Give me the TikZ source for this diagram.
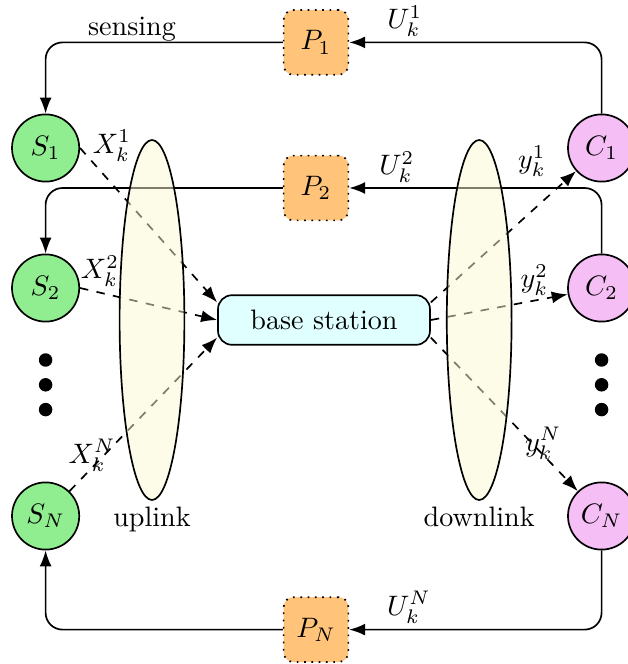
\documentclass[tikz,border=0pt]{standalone}
\usepackage{amsmath,amssymb}
\usepackage{tikz}
\usetikzlibrary{arrows.meta,positioning,shapes.geometric}
\definecolor{sgreen}{RGB}{144,238,144}
\definecolor{cpink}{RGB}{245,190,245}
\definecolor{porange}{RGB}{255,196,122}
\definecolor{bscyan}{RGB}{224,255,255}
\definecolor{linkyellow}{RGB}{250,250,212}

\begin{document}
\begin{tikzpicture}[>={Latex[length=2mm]}, semithick,
	sensor/.style={circle, draw, fill=sgreen, minimum size=0.84cm, inner sep=0pt},
	ctrl/.style={circle, draw, fill=cpink, minimum size=0.84cm, inner sep=0pt},
	plant/.style={draw, dotted, rounded corners=3.5pt, fill=porange, minimum size=0.81cm, inner sep=0pt},
	link/.style={ellipse, draw, fill=linkyellow, fill opacity=0.5, minimum width=0.81cm, minimum height=4.5cm},
	radio/.style={dashed, ->}]
	\useasboundingbox (0,0) rectangle (7.85,8.3);
	\node[sensor] (s1) at (0.57,6.45) {$S_1$};
	\node[sensor] (s2) at (0.57,4.7) {$S_2$};
	\node[sensor] (sN) at (0.57,1.85) {$S_N$};
	\node[ctrl] (c1) at (7.52,6.45) {$C_1$};
	\node[ctrl] (c2) at (7.52,4.7) {$C_2$};
	\node[ctrl] (cN) at (7.52,1.85) {$C_N$};
	\node[plant] (p1) at (3.95,7.77) {$P_1$};
	\node[plant] (p2) at (3.95,5.95) {$P_2$};
	\node[plant] (pN) at (3.95,0.43) {$P_N$};
	\node[draw, rounded corners=5pt, fill=bscyan, minimum width=2.65cm, minimum height=0.62cm] (bs) at (4.05,4.3) {base station};
	\foreach \y in {3.8,3.49,3.18} {
		\fill (0.57,\y) circle (2.4pt);
		\fill (7.52,\y) circle (2.4pt);
	}
	\draw[->, rounded corners=6pt] (c1.north) |- (p1.east);
	\draw[->, rounded corners=6pt] (p1.west) -| (s1.north);
	\draw[->, rounded corners=6pt] (c2.north) |- (p2.east);
	\draw[->, rounded corners=6pt] (p2.west) -| (s2.north);
	\draw[->, rounded corners=6pt] (cN.south) |- (pN.east);
	\draw[->, rounded corners=6pt] (pN.west) -| (sN.south);
	\node (sense) at (1.65,7.93) {sensing};
	\node (u1) at (5.06,8.04) {$U_k^1$};
	\node (u2) at (4.96,6.21) {$U_k^2$};
	\node (uN) at (5.11,0.71) {$U_k^N$};
	\draw[radio] (s1.east) -- ([yshift=0.22cm]bs.west);
	\draw[radio] (s2.east) -- (bs.west);
	\draw[radio] (sN) -- ([yshift=-0.22cm]bs.west);
	\draw[radio] ([yshift=0.22cm]bs.east) -- (c1);
	\draw[radio] (bs.east) -- (c2);
	\draw[radio] ([yshift=-0.22cm]bs.east) -- (cN);
	\node (x1) at (1.4,6.48) {$X_k^1$};
	\node (x2) at (1.25,4.91) {$X_k^2$};
	\node (xN) at (1.15,2.61) {$X_k^N$};
	\node (y1) at (6.65,6.29) {$y_k^1$};
	\node (y2) at (6.68,4.8) {$y_k^2$};
	\node (yN) at (6.79,2.76) {$y_k^N$};
	\node[link] (upl) at (1.9,4.3) {};
	\node[link] (dnl) at (5.99,4.3) {};
	\node[below=-1.5pt of upl] (uplabel) {uplink};
	\node[below=-1.5pt of dnl] (dnlabel) {downlink};
\end{tikzpicture}
\end{document}
